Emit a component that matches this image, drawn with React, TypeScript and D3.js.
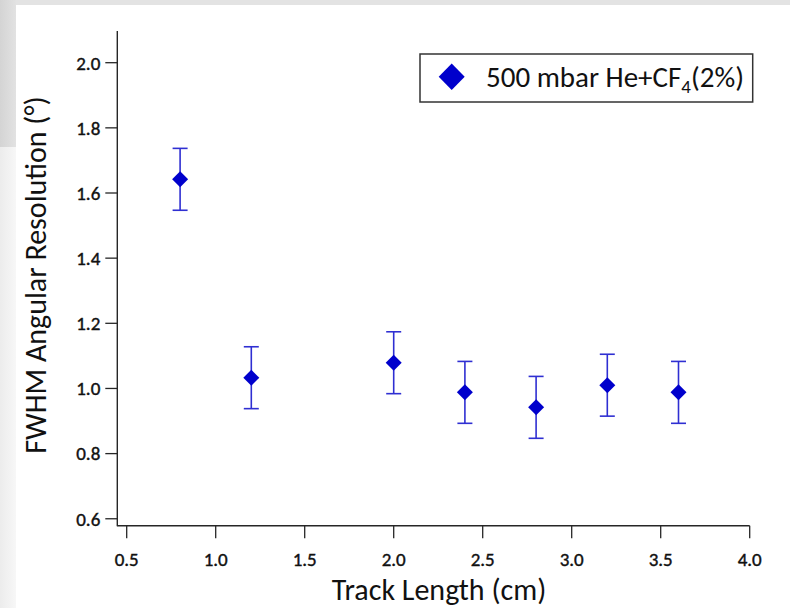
import React from "react";
import * as d3 from "d3";

const trackLength = [0.8, 1.2, 2.0, 2.4, 2.8, 3.2, 3.6];
const fwhm = [1.642, 1.033, 1.079, 0.988, 0.942, 1.01, 0.988];
const fwhmErr = [0.095, 0.095, 0.095, 0.095, 0.095, 0.095, 0.095];
const xTicks = [0.5, 1.0, 1.5, 2.0, 2.5, 3.0, 3.5, 4.0];
const yTicks = [0.6, 0.8, 1.0, 1.2, 1.4, 1.6, 1.8, 2.0];
const seriesName = "500 mbar He+CF";
const seriesSub = "4";
const seriesTail = "(2%)";
const xTitle = "Track Length (cm)";
const yTitle = "FWHM Angular Resolution (°)";

const W = 790;
const H = 608;
const FONT = "Carlito, Lato, 'Open Sans', sans-serif";

export default function App() {
  const x = d3.scaleLinear().domain([0.4472, 4.0]).range([117.3, 749.7]);
  const y = d3.scaleLinear().domain([0.5787, 2.0973]).range([525.7, 31]);
  const diamond = (cx: number, cy: number, hw: number, hh: number) =>
    `M${cx},${cy - hh}L${cx + hw},${cy}L${cx},${cy + hh}L${cx - hw},${cy}Z`;
  const axisColor = "#262626";
  const x0 = x.range()[0];
  const y0 = y.range()[0];
  return (
    <svg
      width={W}
      height={H}
      style={{ position: "absolute", left: 0, top: 0, display: "block" }}
      fontFamily={FONT}
    >
      <defs>
        <linearGradient id="gTop" x1="0" x2="1" y1="0" y2="0">
          <stop offset="0" stopColor="#d4d4d4" />
          <stop offset="1" stopColor="#e2e2e2" />
        </linearGradient>
        <linearGradient id="gBot" x1="0" x2="1" y1="0" y2="0">
          <stop offset="0" stopColor="#ececec" />
          <stop offset="1" stopColor="#f7f7f7" />
        </linearGradient>
      </defs>
      <rect x={0} y={0} width={W} height={H} fill="#ffffff" />
      <rect x={0} y={0} width={W} height={5} fill="#e3e3e3" />
      <rect x={0} y={0} width={16} height={147} fill="url(#gTop)" />
      <rect x={0} y={147} width={16} height={H - 147} fill="url(#gBot)" />

      {/* axes */}
      <line x1={x0} x2={x0} y1={y.range()[1]} y2={y0 + 0.6} stroke={axisColor} strokeWidth={1.4} />
      <line x1={x0} x2={x.range()[1]} y1={y0} y2={y0} stroke={axisColor} strokeWidth={1.4} />
      {yTicks.map((t) => (
        <g key={"y" + t}>
          <line x1={x0 - 12} x2={x0} y1={y(t)} y2={y(t)} stroke={axisColor} strokeWidth={1.3} />
          <text
            x={x0 - 17}
            y={y(t)}
            dy="0.36em"
            textAnchor="end"
            fontSize={19}
            fill="#111111"
            stroke="#111111"
            strokeWidth={0.4}
          >
            {d3.format(".1f")(t)}
          </text>
        </g>
      ))}
      {xTicks.map((t) => (
        <g key={"x" + t}>
          <line x1={x(t)} x2={x(t)} y1={y0} y2={y0 + 12.5} stroke={axisColor} strokeWidth={1.3} />
          <text
            x={x(t)}
            y={566}
            textAnchor="middle"
            fontSize={19}
            fill="#111111"
            stroke="#111111"
            strokeWidth={0.4}
          >
            {d3.format(".1f")(t)}
          </text>
        </g>
      ))}
      <text x={439} y={600} textAnchor="middle" fontSize={30} fill="#111111">
        {xTitle}
      </text>
      <text
        transform={`translate(46,${275}) rotate(-90)`}
        textAnchor="middle"
        fontSize={30}
        fill="#111111"
      >
        {yTitle}
      </text>

      {/* error bars and points */}
      {trackLength.map((tl, i) => {
        const cx = x(tl);
        const top = y(fwhm[i] + fwhmErr[i]);
        const bot = y(fwhm[i] - fwhmErr[i]);
        return (
          <g key={"p" + i}>
            <line x1={cx} x2={cx} y1={top} y2={bot} stroke="#2f2fd2" strokeWidth={1.6} />
            <line x1={cx - 7.5} x2={cx + 7.5} y1={top} y2={top} stroke="#2f2fd2" strokeWidth={1.6} />
            <line x1={cx - 7.5} x2={cx + 7.5} y1={bot} y2={bot} stroke="#2f2fd2" strokeWidth={1.6} />
            <path d={diamond(cx, y(fwhm[i]), 8, 8)} fill="#0000cc" />
          </g>
        );
      })}

      {/* legend */}
      <rect x={420} y={54} width={332.7} height={48} fill="#ffffff" stroke="#333333" strokeWidth={1.5} />
      <path d={diamond(451.7, 76.7, 13, 13.3)} fill="#0000cc" />
      <text x={486} y={87} fontSize={29} fill="#111111">
        {seriesName}
        <tspan fontSize={19} dy={6}>{seriesSub}</tspan>
        <tspan dy={-6}>{seriesTail}</tspan>
      </text>
    </svg>
  );
}
